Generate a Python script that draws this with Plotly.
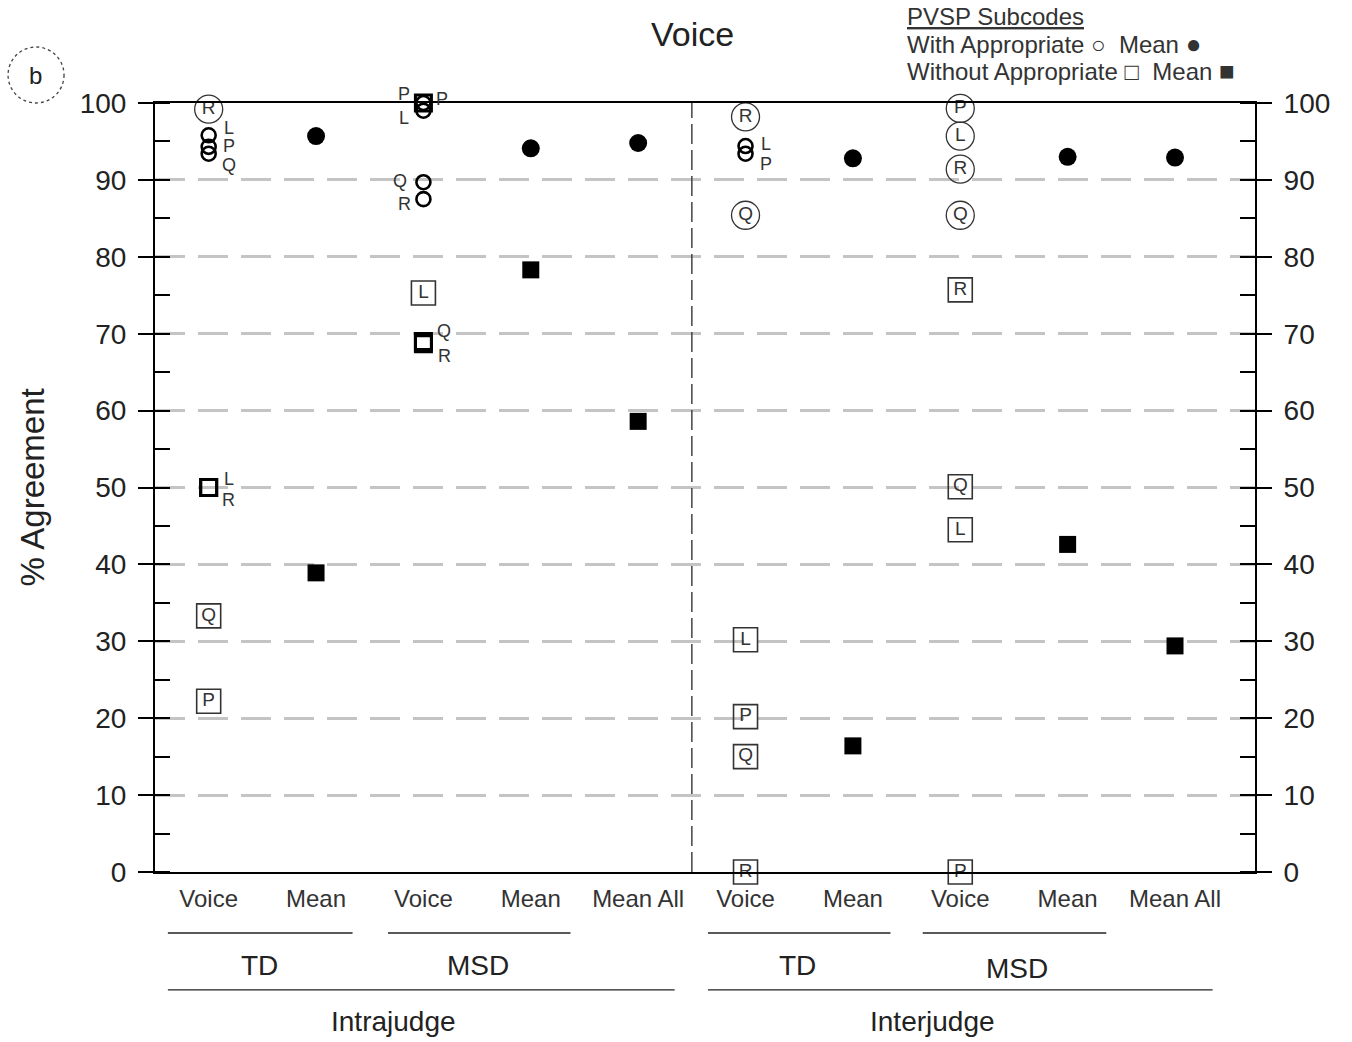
import plotly.graph_objects as go

# ---------------- data ----------------
categories = ["Voice", "Mean", "Voice", "Mean", "Mean All",
              "Voice", "Mean", "Voice", "Mean", "Mean All"]
subcodes = ["P", "L", "Q", "R"]

intra_td_with = [94.3, 95.8, 93.4, 99.2]
intra_td_without = [22.2, 50.0, 33.3, 50.0]
intra_msd_with = [100.0, 99.0, 89.7, 87.5]
intra_msd_without = [100.0, 75.3, 69.0, 68.7]
inter_td_with = [93.4, 94.4, 85.4, 98.2]
inter_td_without = [20.2, 30.2, 15.0, 0.0]
inter_msd_with = [99.3, 95.7, 85.4, 91.4]
inter_msd_without = [0.0, 44.5, 50.1, 75.7]

mean_with = [95.7, 94.1, 94.8, 92.8, 93.0, 92.9]
mean_without = [38.9, 78.3, 58.6, 16.4, 42.6, 29.4]

y_ticks = [0, 10, 20, 30, 40, 50, 60, 70, 80, 90, 100]

# ---------------- layout helpers ----------------
FONT = "Liberation Sans, Arial, sans-serif"
voice_idx = [i for i, c in enumerate(categories) if c == "Voice"]
mean_idx = [i for i, c in enumerate(categories) if c != "Voice"]

groups = [
    (voice_idx[0], intra_td_with, intra_td_without, {"R"}, {"P", "Q"}),
    (voice_idx[1], intra_msd_with, intra_msd_without, set(), {"L"}),
    (voice_idx[2], inter_td_with, inter_td_without, {"R", "Q"}, {"P", "L", "Q", "R"}),
    (voice_idx[3], inter_msd_with, inter_msd_without, {"P", "L", "Q", "R"}, {"P", "L", "Q", "R"}),
]

# label offsets (pixels) for the small markers labelled at their side
side_offsets = {
    (0, "w", "L"): (20, 7), (0, "w", "P"): (20, 1), (0, "w", "Q"): (20, -11),
    (0, "wo", "L"): (20, 9), (0, "wo", "R"): (20, -12),
    (2, "w", "P"): (-19, 9), (2, "w", "L"): (-19, -7), (2, "w", "Q"): (-23, 1), (2, "w", "R"): (-19, -5),
    (2, "wo", "P"): (19, 4), (2, "wo", "Q"): (21, 10), (2, "wo", "R"): (21, -12),
    (5, "w", "L"): (20, 2), (5, "w", "P"): (20, -10),
}

in_c = dict(x=[], y=[], t=[])
in_s = dict(x=[], y=[], t=[])
sd_c = dict(x=[], y=[])
sd_s = dict(x=[], y=[])
side_labels = []

for gx, wv, wov, in_w, in_wo in groups:
    for code, v in zip(subcodes, wv):
        if code in in_w:
            in_c["x"].append(gx); in_c["y"].append(v); in_c["t"].append(code)
        else:
            sd_c["x"].append(gx); sd_c["y"].append(v)
            side_labels.append((gx, v, code, side_offsets.get((gx, "w", code), (20, 0))))
    for code, v in zip(subcodes, wov):
        if code in in_wo:
            in_s["x"].append(gx); in_s["y"].append(v); in_s["t"].append(code)
        else:
            sd_s["x"].append(gx); sd_s["y"].append(v)
            side_labels.append((gx, v, code, side_offsets.get((gx, "wo", code), (20, 0))))

fig = go.Figure()

fig.add_trace(go.Scatter(
    x=in_c["x"], y=in_c["y"], text=in_c["t"], mode="markers+text",
    textposition="middle center", textfont=dict(family=FONT, size=19, color="#333"),
    marker=dict(symbol="circle-open", size=28, color="#333", line=dict(width=1.3, color="#333")),
    cliponaxis=False, showlegend=False, hoverinfo="skip"))
fig.add_trace(go.Scatter(
    x=in_s["x"], y=in_s["y"], text=in_s["t"], mode="markers+text",
    textposition="middle center", textfont=dict(family=FONT, size=19, color="#333"),
    marker=dict(symbol="square-open", size=24, color="#333", line=dict(width=1.6, color="#333")),
    cliponaxis=False, showlegend=False, hoverinfo="skip"))
fig.add_trace(go.Scatter(
    x=sd_c["x"], y=sd_c["y"], mode="markers",
    marker=dict(symbol="circle-open", size=14, color="black", line=dict(width=2.6, color="black")),
    cliponaxis=False, showlegend=False, hoverinfo="skip"))
fig.add_trace(go.Scatter(
    x=sd_s["x"], y=sd_s["y"], mode="markers",
    marker=dict(symbol="square-open", size=16, color="black", line=dict(width=3, color="black")),
    cliponaxis=False, showlegend=False, hoverinfo="skip"))
fig.add_trace(go.Scatter(
    x=mean_idx, y=mean_with, mode="markers",
    marker=dict(symbol="circle", size=18, color="black"),
    cliponaxis=False, showlegend=False, hoverinfo="skip"))
fig.add_trace(go.Scatter(
    x=mean_idx, y=mean_without, mode="markers",
    marker=dict(symbol="square", size=17, color="black"),
    cliponaxis=False, showlegend=False, hoverinfo="skip"))
# invisible trace to activate the right axis
fig.add_trace(go.Scatter(x=[0], y=[0], yaxis="y2", mode="markers",
                         marker=dict(opacity=0), showlegend=False, hoverinfo="skip"))

annotations = []
for gx, v, code, (dx, dy) in side_labels:
    annotations.append(dict(x=gx, y=v, xref="x", yref="y", text=code, showarrow=False,
                            xanchor="center", yanchor="middle",
                            xshift=dx, yshift=dy, font=dict(family=FONT, size=18, color="#333")))

big = '<span style="font-size:26px">{}</span>'
# title, axis title, legend, panel letter
annotations += [
    dict(x=0.489, y=1.0897, xref="paper", yref="paper", text="Voice", showarrow=False,
         xanchor="center", yanchor="middle", font=dict(family=FONT, size=34, color="#222")),
    dict(x=-0.111, y=0.5, xref="paper", yref="paper", text="% Agreement", showarrow=False,
         xanchor="center", yanchor="middle",
         textangle=-90, font=dict(family=FONT, size=33, color="#222")),
    dict(x=0.6818, y=1.1131, xref="paper", yref="paper", text="<u>PVSP Subcodes</u>",
         showarrow=False, xanchor="left", yanchor="middle",
         font=dict(family=FONT, size=24, color="#333")),
    dict(x=0.6818, y=1.0767, xref="paper", yref="paper",
         text="With Appropriate ○  Mean " + big.format("●"),
         showarrow=False, xanchor="left", yanchor="middle",
         font=dict(family=FONT, size=24, color="#333")),
    dict(x=0.6818, y=1.0416, xref="paper", yref="paper",
         text="Without Appropriate □  Mean " + big.format("■"),
         showarrow=False, xanchor="left", yanchor="middle",
         font=dict(family=FONT, size=24, color="#333")),
    dict(x=-0.1082, y=1.0364, xref="paper", yref="paper", text="b", showarrow=False,
         xanchor="center", yanchor="middle", font=dict(family=FONT, size=24, color="#222")),
]

# group labels below the axis
group_text = [("TD", 0.47, -0.121), ("MSD", 2.51, -0.121), ("Intrajudge", 1.72, -0.195),
              ("TD", 5.48, -0.121), ("MSD", 7.53, -0.125), ("Interjudge", 6.74, -0.195)]
for txt, gx, gy in group_text:
    annotations.append(dict(x=gx, y=gy, xref="x", yref="paper", text=txt, showarrow=False,
                            xanchor="center", yanchor="middle",
                            font=dict(family=FONT, size=28, color="#222")))

shapes = []
group_lines = [(-0.38, 1.34, -0.0793), (1.67, 3.37, -0.0793), (-0.38, 4.34, -0.1534),
               (4.65, 6.35, -0.0793), (6.65, 8.36, -0.0793), (4.65, 9.35, -0.1534)]
for x0, x1, yy in group_lines:
    shapes.append(dict(type="line", xref="x", yref="paper", x0=x0, x1=x1, y0=yy, y1=yy,
                       line=dict(color="#222", width=1.3)))
shapes.append(dict(type="line", xref="x", yref="y", x0=4.5, x1=4.5, y0=0, y1=100,
                   line=dict(color="#444", width=1.5, dash="20px,6px")))
shapes.append(dict(type="circle", xref="paper", yref="paper", x0=-0.1336, x1=-0.0827,
                   y0=1.0, y1=1.0728, line=dict(color="#444", width=1.3, dash="dot")))

yaxis_common = dict(
    range=[0, 100], tickvals=y_ticks, ticks="outside", ticklen=15, tickwidth=2,
    tickcolor="black", showline=True, linewidth=2, linecolor="black",
    tickfont=dict(family=FONT, size=28, color="#222"), zeroline=False,
    minor=dict(ticks="inside", ticklen=15, tickwidth=2, tickcolor="black", dtick=5, showgrid=False),
    ticklabelstandoff=6,
)

fig.update_layout(
    width=1352, height=1042, autosize=False,
    margin=dict(l=155, r=97, t=103, b=170),
    paper_bgcolor="white", plot_bgcolor="white",
    xaxis=dict(range=[-0.5, 9.745], tickvals=list(range(len(categories))), ticktext=categories,
               ticks="", showline=True, mirror=True, linewidth=2, linecolor="black",
               showgrid=False, zeroline=False, ticklabelstandoff=4,
               tickfont=dict(family=FONT, size=24, color="#333")),
    yaxis=dict(**yaxis_common, showgrid=True, gridcolor="#c4c4c4", gridwidth=2.5,
               griddash="30px,13px"),
    yaxis2=dict(**yaxis_common, overlaying="y", side="right", showgrid=False),
    annotations=annotations, shapes=shapes,
)

# remove the default 8px page margin so the figure fills the window exactly
fig.write_html("out.html",
               config={"displayModeBar": False},
               post_script="document.body.style.margin='0px';"
                           "document.body.style.overflow='hidden';")
